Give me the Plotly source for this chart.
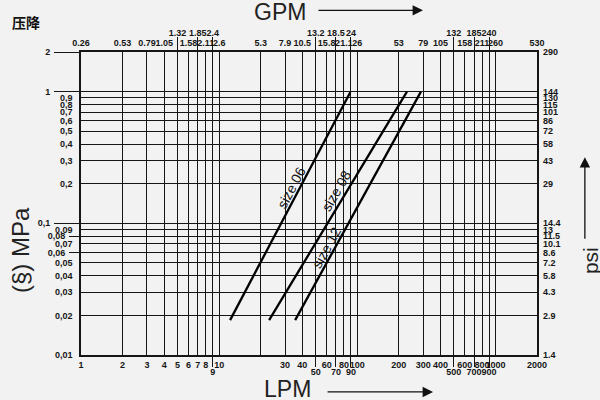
import numpy as np
import plotly.graph_objects as go

# ---- data ----
size_06_lpm = [12.0, 89.0]
size_06_mpa = [0.0184, 0.99]
size_08_lpm = [23.0, 229.0]
size_08_mpa = [0.0184, 1.0]
size_12_lpm = [35.5, 289.0]
size_12_mpa = [0.0184, 1.0]

series_names = ["size 06", "size 08", "size 12"]
label_lpm = [33.6, 71.3, 60.3]
label_mpa = [0.188, 0.178, 0.066]
label_angle = [-62, -60, -61]

lpm_ticks = [1, 2, 3, 4, 5, 6, 7, 8, 9, 10, 20, 30, 40, 50, 60, 70, 80, 90,
             100, 200, 300, 400, 500, 600, 700, 800, 900, 1000, 2000]
lpm_labels = ["1", "2", "3", "4", "5", "6", "7", "8", "9", "10", "", "30", "40", "50",
              "60", "70", "80", "90", "100", "200", "300", "400", "500", "600",
              "700", "800", "900", "1000", "2000"]
gpm_labels = ["0.26", "0.53", "0.79", "1.05", "1.32", "1.58", "1.85", "2.11", "2.4",
              "2.6", "5.3", "7.9", "10.5", "13.2", "15.8", "18.5", "21.1", "24", "26",
              "53", "79", "105", "132", "158", "185", "211", "240", "260", "530"]
lpm_low = [9, 50, 70, 90, 500, 700, 900]          # bottom labels set lower
lpm_high = [5, 7, 9, 50, 70, 90, 500, 700, 900]   # top labels set higher

mpa_ticks = [0.01, 0.02, 0.03, 0.04, 0.05, 0.06, 0.07, 0.08, 0.09, 0.1,
             0.2, 0.3, 0.4, 0.5, 0.6, 0.7, 0.8, 0.9, 1, 2]
mpa_labels = ["0,01", "0,02", "0,03", "0,04", "0,05", "0,06", "0,07", "0,08", "0,09", "0,1",
              "0,2", "0,3", "0,4", "0,5", "0,6", "0,7", "0,8", "0,9", "1", "2"]
psi_labels = ["1.4", "2.9", "4.3", "5.8", "7.2", "8.6", "10.1", "11.5", "13", "14.4",
              "29", "43", "58", "72", "86", "101", "115", "130", "144", "290"]
mpa_far = [2, 1, 0.1]
mpa_mid = [0.08, 0.06]

X_RANGE = [np.log10(1), np.log10(2000)]
Y_RANGE = [np.log10(0.01), np.log10(2)]

INK = "#161616"
BG = "#f2f2f2"
tickfont = dict(family="Liberation Sans, Arial, sans-serif", size=9, color=INK, weight="bold")

fig = go.Figure()
for xs, ys in [(size_06_lpm, size_06_mpa), (size_08_lpm, size_08_mpa), (size_12_lpm, size_12_mpa)]:
    fig.add_trace(go.Scatter(x=xs, y=ys, mode="lines", line=dict(color="#000000", width=2.3),
                             hoverinfo="skip", showlegend=False))

# invisible carriers for the extra axes
for xa, ya in [("x2", "y2"), ("x3", "y3"), ("x4", "y4")]:
    fig.add_trace(go.Scatter(x=size_06_lpm, y=size_06_mpa, xaxis=xa, yaxis=ya, mode="lines",
                             line=dict(width=0), opacity=0, hoverinfo="skip", showlegend=False))

def labels_without(all_vals, all_labels, excluded):
    return [("" if v in excluded else t) for v, t in zip(all_vals, all_labels)]

base_x = dict(type="log", range=X_RANGE, autorange=False, fixedrange=True, anchor="y")
base_y = dict(type="log", range=Y_RANGE, autorange=False, fixedrange=True, anchor="x")

fig.update_layout(
    width=600, height=400,
    margin=dict(l=81, r=63, t=52, b=45),
    paper_bgcolor=BG, plot_bgcolor=BG,
    xaxis=dict(**base_x, tickmode="array", tickvals=lpm_ticks,
               ticktext=labels_without(lpm_ticks, lpm_labels, lpm_low),
               showgrid=True, gridcolor=INK, gridwidth=1.2,
               showline=True, mirror=True, linecolor=INK, linewidth=1.5,
               ticks="", ticklabelstandoff=0, tickfont=tickfont, tickangle=0),
    xaxis2=dict(**base_x, overlaying="x", side="top", tickmode="array", tickvals=lpm_ticks,
                ticktext=labels_without(lpm_ticks, gpm_labels, lpm_high),
                showgrid=False, ticks="", ticklabelstandoff=3, tickfont=tickfont, tickangle=0),
    xaxis3=dict(**base_x, overlaying="x", side="bottom", tickmode="array", tickvals=lpm_low,
                ticktext=[lpm_labels[lpm_ticks.index(v)] for v in lpm_low],
                showgrid=False, ticks="outside", ticklen=11, tickwidth=1.2, tickcolor=INK,
                ticklabelstandoff=-3, tickfont=tickfont, tickangle=0),
    xaxis4=dict(**base_x, overlaying="x", side="top", tickmode="array", tickvals=lpm_high,
                ticktext=[gpm_labels[lpm_ticks.index(v)] for v in lpm_high],
                showgrid=False, ticks="outside", ticklen=14, tickwidth=1.2, tickcolor=INK,
                ticklabelstandoff=-3, tickfont=tickfont, tickangle=0),
    yaxis=dict(**base_y, tickmode="array", tickvals=mpa_ticks,
               ticktext=labels_without(mpa_ticks, mpa_labels, mpa_far + mpa_mid),
               showgrid=True, gridcolor=INK, gridwidth=1.2,
               showline=True, mirror=True, linecolor=INK, linewidth=1.5,
               ticks="", ticklabelstandoff=5, tickfont=tickfont),
    yaxis2=dict(**base_y, overlaying="y", side="right", tickmode="array", tickvals=mpa_ticks,
                ticktext=psi_labels, showgrid=False, ticks="", ticklabelstandoff=5,
                tickfont=tickfont),
    yaxis3=dict(**base_y, overlaying="y", side="left", tickmode="array", tickvals=mpa_far,
                ticktext=[mpa_labels[mpa_ticks.index(v)] for v in mpa_far],
                showgrid=False, ticks="outside", ticklen=26, tickwidth=1.2, tickcolor=INK,
                ticklabelstandoff=2, tickfont=tickfont),
    yaxis4=dict(**base_y, overlaying="y", side="left", tickmode="array", tickvals=mpa_mid,
                ticktext=[mpa_labels[mpa_ticks.index(v)] for v in mpa_mid],
                showgrid=False, ticks="outside", ticklen=11, tickwidth=1.2, tickcolor=INK,
                ticklabelstandoff=2, tickfont=tickfont),
)

# series labels along the lines
for name, lx, ly, ang in zip(series_names, label_lpm, label_mpa, label_angle):
    fig.add_annotation(x=np.log10(lx), y=np.log10(ly), xref="x", yref="y", text=name,
                       showarrow=False, textangle=ang, xanchor="center", yanchor="middle",
                       font=dict(family="Liberation Sans, Arial, sans-serif", size=14, color=INK))

centered = dict(xref="paper", yref="paper", showarrow=False, xanchor="center", yanchor="middle")
title_font = dict(family="Liberation Sans, Arial, sans-serif", size=23, color="#222222")
fig.add_annotation(x=0.436, y=1.131, text="GPM", font=title_font, **centered)
fig.add_annotation(x=0.453, y=-0.112, text="LPM", font=title_font, **centered)
fig.add_annotation(x=-0.134, y=0.346, text="(§) MPa", textangle=-90,
                   font=dict(family="Liberation Sans, Arial, sans-serif", size=24, color="#222222"),
                   **centered)
fig.add_annotation(x=1.116, y=0.313, text="psi", textangle=-90,
                   font=dict(family="Liberation Sans, Arial, sans-serif", size=21, color="#222222"),
                   **centered)
fig.add_annotation(x=-0.1206, y=1.098, text="压降",
                   font=dict(family="Noto Sans CJK SC", size=14, color="#111111", weight="bold"),
                   **centered)

# arrows
arrow = dict(xref="paper", yref="paper", showarrow=True, arrowhead=2, arrowsize=1.6,
             arrowwidth=1.3, arrowcolor="#111111", text="")
fig.add_annotation(x=0.75, y=1.1375, ax=-106, ay=0, **arrow)
fig.add_annotation(x=0.772, y=-0.122, ax=-107, ay=0, **arrow)
fig.add_annotation(x=1.105, y=0.653, ax=0, ay=83, **arrow)

fig.write_html("out.html", config={"displayModeBar": False},
               post_script="document.body.style.margin='0';document.body.style.background='#f2f2f2';")
